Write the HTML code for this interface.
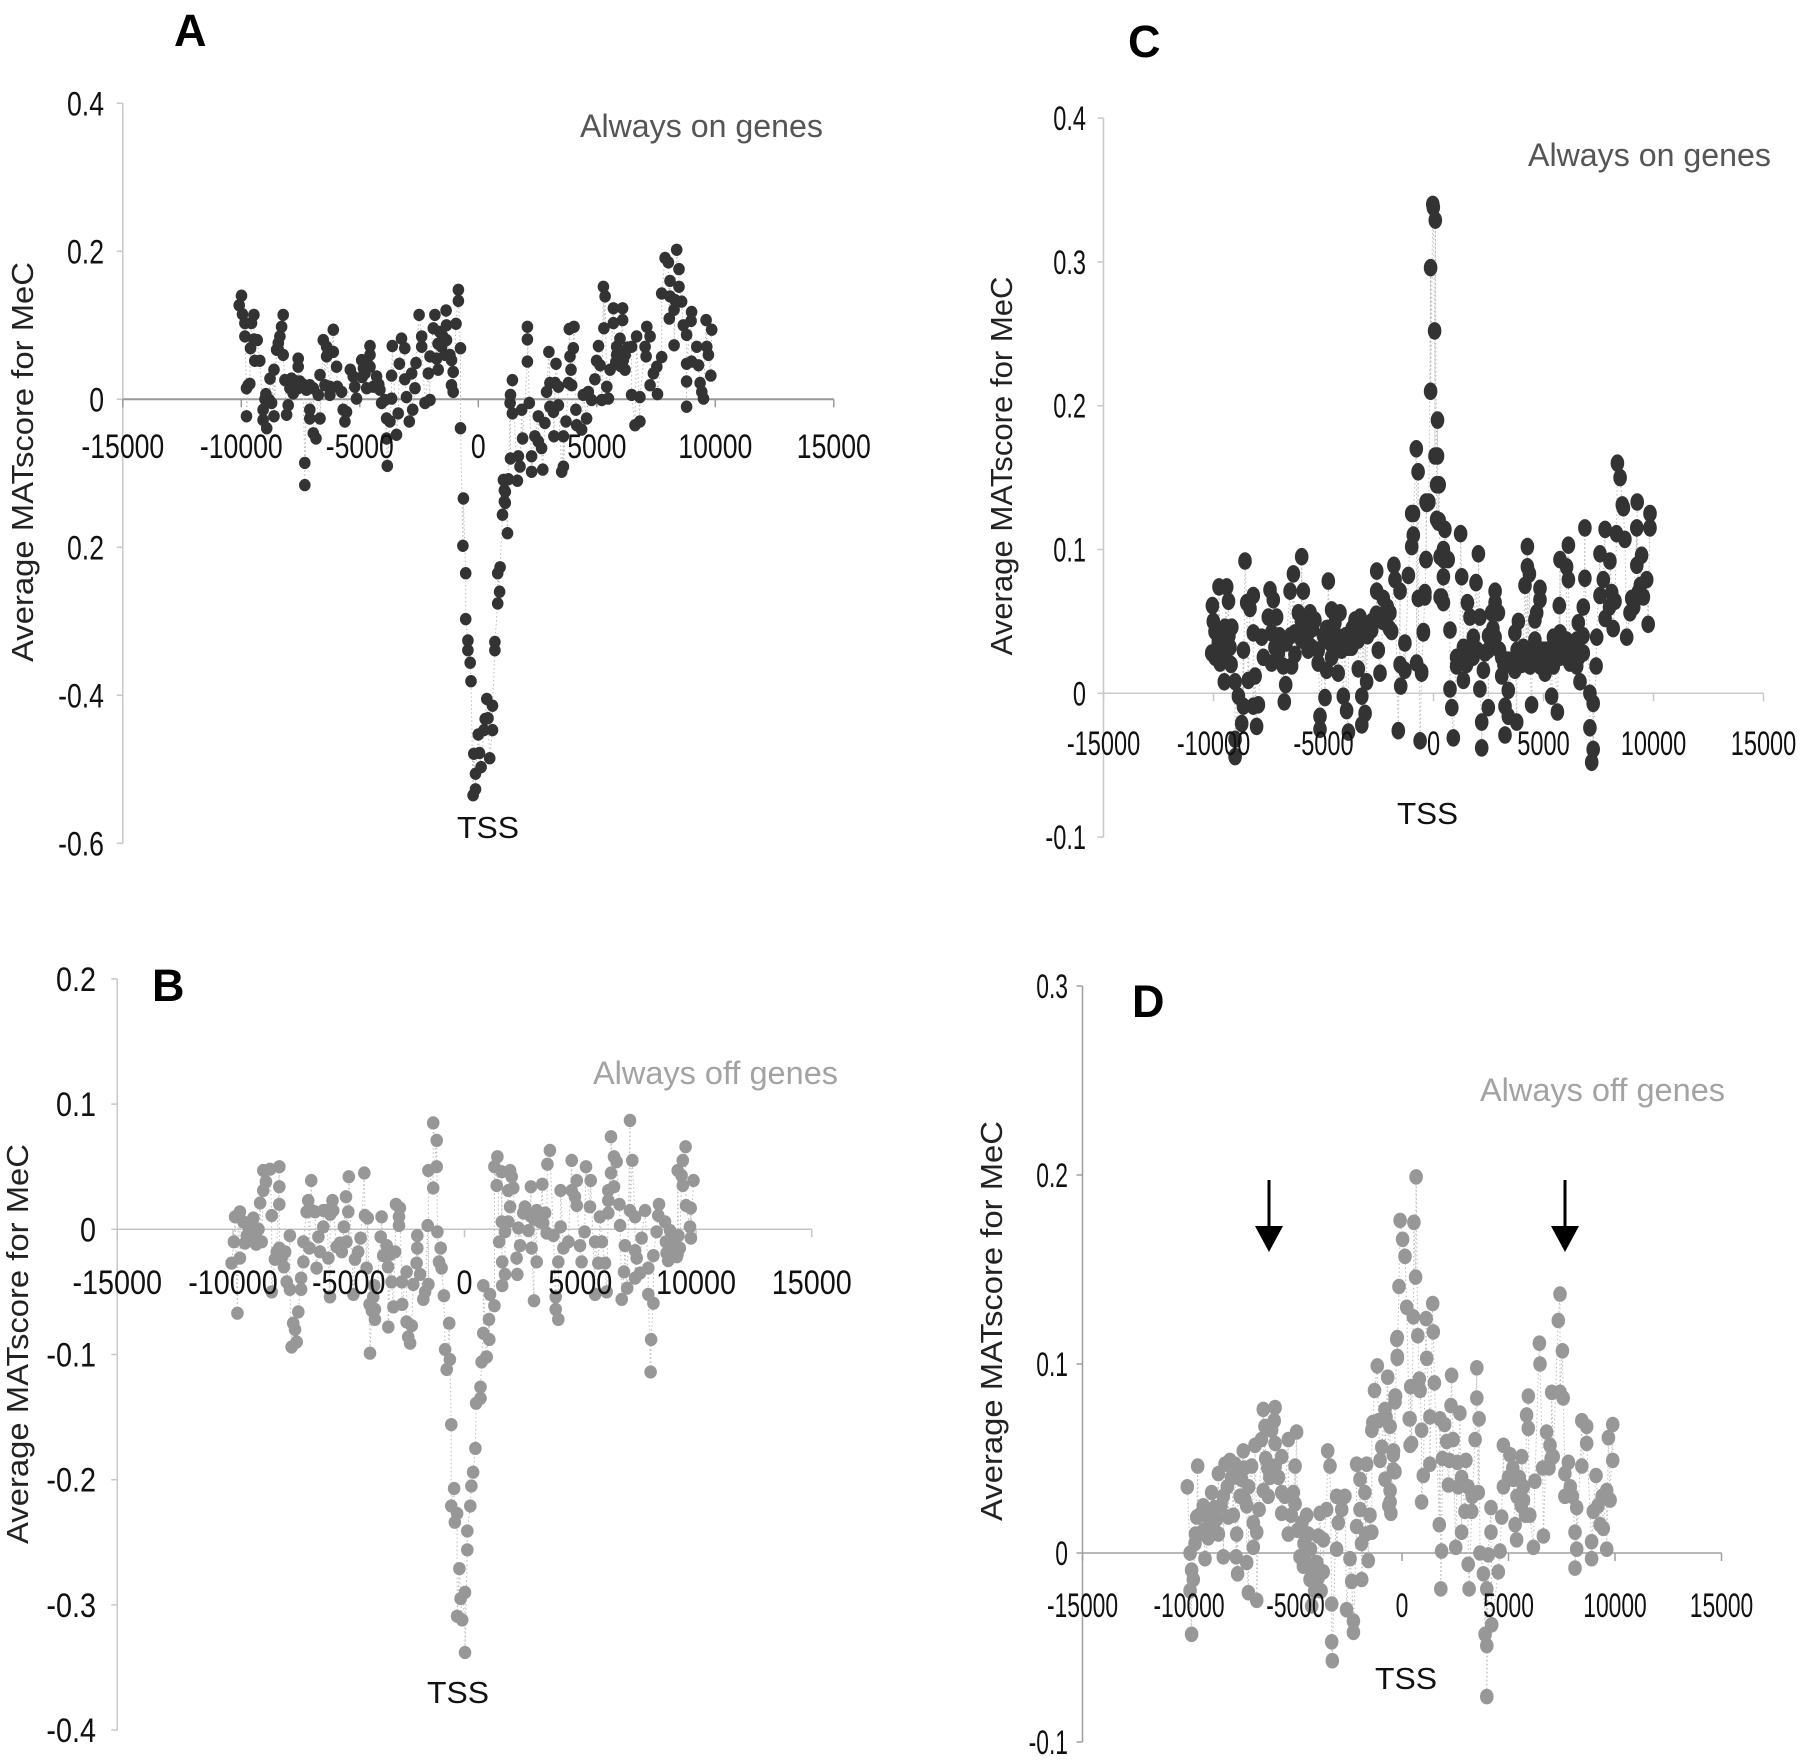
<!DOCTYPE html>
<html lang="en">
<head>
<meta charset="utf-8">
<title>Average MATscore for MeC around TSS</title>
<style>
html,body{margin:0;padding:0;background:#fff;width:1800px;height:1764px;overflow:hidden}
svg{display:block}
text{font-family:"Liberation Sans",sans-serif}
.letter{font-weight:bold;font-size:45px;fill:#000}
.ytitle{font-size:31px;fill:#222}
.tss{font-size:31px;fill:#111}
.sub-on{font-size:32px;fill:#555}
.sub-off{font-size:32px;fill:#a3a3a3}
</style>
</head>
<body>
<svg id="figure" xmlns="http://www.w3.org/2000/svg" width="1800" height="1764" viewBox="0 0 1800 1764">
  <rect x="0" y="0" width="1800" height="1764" fill="#fff"/>

  <g id="panel-a"></g>
  <g id="panel-b"></g>
  <g id="panel-c"></g>
  <g id="panel-d"></g>

  <text class="letter" x="174" y="46">A</text>
  <text class="letter" x="152" y="1001">B</text>
  <text class="letter" x="1128" y="57">C</text>
  <text class="letter" x="1132" y="1017">D</text>

  <text class="ytitle" transform="translate(33,462) rotate(-90)" text-anchor="middle" textLength="400" lengthAdjust="spacingAndGlyphs">Average MATscore for MeC</text>
  <text class="ytitle" transform="translate(28,1344) rotate(-90)" text-anchor="middle" textLength="400" lengthAdjust="spacingAndGlyphs">Average MATscore for MeC</text>
  <text class="ytitle" transform="translate(1012,466) rotate(-90)" text-anchor="middle" textLength="379" lengthAdjust="spacingAndGlyphs">Average MATscore for MeC</text>
  <text class="ytitle" transform="translate(1002,1321) rotate(-90)" text-anchor="middle" textLength="400" lengthAdjust="spacingAndGlyphs">Average MATscore for MeC</text>

  <text class="sub-on" x="580" y="137" textLength="243" lengthAdjust="spacingAndGlyphs">Always on genes</text>
  <text class="sub-off" x="593" y="1084" textLength="245" lengthAdjust="spacingAndGlyphs">Always off genes</text>
  <text class="sub-on" x="1528" y="166" textLength="243" lengthAdjust="spacingAndGlyphs">Always on genes</text>
  <text class="sub-off" x="1480" y="1101" textLength="245" lengthAdjust="spacingAndGlyphs">Always off genes</text>

  <text class="tss" x="457" y="838" textLength="62" lengthAdjust="spacingAndGlyphs">TSS</text>
  <text class="tss" x="427" y="1703" textLength="62" lengthAdjust="spacingAndGlyphs">TSS</text>
  <text class="tss" x="1397" y="824" textLength="61" lengthAdjust="spacingAndGlyphs">TSS</text>
  <text class="tss" x="1375" y="1689" textLength="62" lengthAdjust="spacingAndGlyphs">TSS</text>
</svg>

<script>
/* Shared x axis ticks */
const xTickValues = [-15000,-10000,-5000,0,5000,10000,15000];
const xTickLabels = ["-15000","-10000","-5000","0","5000","10000","15000"];

/* Y axis ticks per panel */
const aYTickValues = [0.4,0.2,0,-0.2,-0.4,-0.6];
const aYTickLabels = ["0.4","0.2","0","0.2","-0.4","-0.6"];
const bYTickValues = [0.2,0.1,0,-0.1,-0.2,-0.3,-0.4];
const bYTickLabels = ["0.2","0.1","0","-0.1","-0.2","-0.3","-0.4"];
const cYTickValues = [0.4,0.3,0.2,0.1,0,-0.1];
const cYTickLabels = ["0.4","0.3","0.2","0.1","0","-0.1"];
const dYTickValues = [0.3,0.2,0.1,0,-0.1];
const dYTickLabels = ["0.3","0.2","0.1","0","-0.1"];

/* Arrow annotations in panel D: bp position */
const dArrowPositions = [-6244,7653];

/* Panel A: [bp, score] */
const panelAPoints = [
[-9990,.140],[-10090,.127],[-9950,.115],[-9850,.103],[-9470,.114],[-9570,.103],[-9850,.085],[-9470,.081],[-9330,.080],[-9610,.069],
[-9710,.019],[-9780,.015],[-9640,.021],[-9780,-.023],[-9430,.052],[-9220,.052],[-8960,.007],[-9080,-.014],[-8820,-.001],[-9080,-.028],
[-8930,-.039],[-8720,-.005],[-8790,.028],[-8620,.040],[-8620,-.023],[-8510,.067],[-8440,.076],[-8370,.085],[-8300,.098],[-8230,.114],
[-8440,.067],[-8230,.060],[-8160,.026],[-8090,-.021],[-7880,.028],[-7950,.015],[-8020,-.008],[-7810,.008],[-7600,.055],[-7600,.044],
[-7670,.024],[-7530,.024],[-7600,.015],[-7320,-.086],[-7320,-.116],[-7250,.013],[-7110,.019],[-7110,-.014],[-7110,-.026],[-6960,.015],
[-6960,-.046],[-6850,-.053],[-6750,.006],[-6680,.033],[-6680,-.026],[-6470,.019],[-6540,.080],[-6400,.071],[-6400,.058],[-6260,.017],
[-6260,.006],[-6120,.094],[-6120,.064],[-5980,.044],[-5950,.017],[-5770,.010],[-5700,-.014],[-5630,-.030],[-5560,-.017],[-5280,.031],
[-5210,.017],[-5140,.001],[-4920,.053],[-4850,.042],[-4780,.035],[-4570,.072],[-4570,.060],[-4570,.044],[-4710,.015],[-4430,.017],
[-4290,.031],[-4150,.013],[-4080,-.005],[-3870,-.026],[-3870,-.053],[-3840,-.090],[-3940,-.001],[-3660,.001],[-3660,.032],[-3630,.072],
[-3730,-.030],[-3450,-.048],[-3380,-.019],[-3330,.048],[-3240,.082],[-3100,.069],[-3100,.027],[-3030,.003],[-2910,-.030],[-2770,-.014],
[-2810,.035],[-2630,.049],[-2670,.015],[-2500,.114],[-2390,.085],[-2390,.071],[-2250,-.005],[-2110,.035],[-2040,-.001],[-1900,.096],
[-1830,.114],[-2040,.058],[-1760,.055],[-1690,.040],[-1620,.091],[-1550,.071],[-1360,.120],[-1340,.100],[-1340,.080],[-1130,.053],
[-1130,.019],[-1060,.037],[-1060,.010],[-940,.102],[-840,.148],[-840,.133],[-750,.069],[-750,-.039],[-630,-.134],
[-650,-.198],[-530,-.235],[-530,-.297],[-440,-.326],[-440,-.339],[-340,-.356],[-310,-.381],[-190,-.479],[-220,-.535],[-120,-.527],
[-120,-.506],[120,-.497],[50,-.478],[0,-.453],[240,-.447],[290,-.432],[410,-.431],[600,-.447],[480,-.485],[360,-.405],[600,-.414],
[700,-.339],[700,-.328],[820,-.276],[900,-.260],[820,-.235],[920,-.227],[1230,-.181],[1020,-.156],[1140,-.140],[1140,-.125],[1090,-.109],
[1100,-.138],[1100,-.123],[1060,-.109],[1270,-.108],[1650,-.110],[1360,-.080],[1690,-.077],[1760,-.091],[2250,-.077],[2250,-.098],
[2720,-.095],[1440,-.019],[1340,-.005],[1360,.006],[1440,.026],[1830,-.014],[2150,-.005],[1870,-.053],[2070,.051],[2070,.081],
[2070,.098],[2530,-.023],[2810,-.032],[2390,-.050],[2530,-.057],[2670,-.066],[2880,.010],[2980,.064],[3020,.022],[3020,-.010],
[3170,-.017],[3280,.048],[3240,.022],[3380,.017],[3380,-.008],[3190,-.050],[3590,-.050],[3700,-.030],[3590,-.091],[3520,-.098],
[3800,.022],[3940,.019],[3870,.058],[4010,.069],[3910,.040],[3840,.095],[4040,.098],[4120,-.014],[4150,-.035],[4360,-.041],
[4570,-.026],[4430,.006],[4640,.010],[4780,-.001],[4920,.027],[5070,.072],[4990,.052],[5140,.046],[5300,.096],[5280,.152],
[5350,.139],[5700,.123],[5700,.103],[5210,-.001],[5490,.001],[5420,.017],[5560,.040],[5840,.071],[5980,.082],[5840,.060],
[6120,.053],[6190,.040],[6090,.123],[6090,.107],[6470,.071],[6470,.006],[6610,-.035],[6820,-.030],[6820,.003],[6680,.085],
[7110,.098],[7250,.085],[7040,.071],[7080,.058],[7560,.007],[7250,.019],[7390,.035],[7530,.044],[7740,.057],[7740,.143],
[7880,.191],[8020,.185],[8370,.202],[8470,.176],[8090,.160],[8470,.152],[8090,.139],[8300,.134],[8580,.132],[8260,.121],
[8060,.109],[8260,.073],[8650,.100],[8790,.087],[9000,.118],[8980,.106],[8790,-.010],[8790,.024],[8790,.048],[9000,.051],
[9220,.071],[9290,.046],[9360,.022],[9430,.010],[9500,.001],[9610,.107],[9850,.094],[9640,.071],[9710,.060],[9810,.032],
[-9000,0],[-7800,.018],[-7400,.020],[-5400,.040],[-4900,.030],[-4700,.050],[-4200,.020],[-1500,.085],[-1700,.075],[-1200,.060],
[-1400,.060],[5800,.050],[5900,.065],[6000,.045],[6200,.060],[6300,.070]
];

/* Panel B: [bp, score] */
const panelBPoints = [
[-9810,-.067],[-9960,-.010],[-9910,.010],[-9700,.014],[-9550,.006],[-10060,-.027],[-9700,-.023],[-9770,.010],[-9120,.009],[-8830,.021],
[-8690,.031],[-8580,.038],[-8690,.047],[-8400,.048],[-8000,.050],[-8000,.034],[-8000,.020],[-8330,.011],[-9190,-.001],[-9270,-.007],
[-9050,-.005],[-9480,-.011],[-8760,-.010],[-8330,-.050],[-8110,-.018],[-8190,-.024],[-7750,-.018],[-7900,-.023],[-7540,-.005],[-7680,-.042],
[-7540,-.048],[-7180,-.066],[-7400,-.075],[-7320,-.080],[-7250,-.090],[-7470,-.094],[-6960,-.026],[-7060,-.039],[-7060,-.048],[-6960,-.010],
[-6700,-.015],[-6620,.039],[-6750,.023],[-6820,.014],[-6460,.014],[-6390,-.031],[-6240,-.018],[-6310,-.006],[-6100,.002],[-5810,-.054],
[-5880,-.023],[-5950,.015],[-5700,.023],[-5670,.015],[-5520,-.014],[-5380,-.011],[-5210,.002],[-5120,.026],[-5020,.014],[-5000,.042],
[-4800,-.052],[-4730,-.024],[-4590,-.018],[-4490,-.007],[-4330,.045],[-4300,.011],[-4180,.009],[-4230,-.031],[-3940,-.054],[-3870,-.064],
[-3870,-.072],[-4080,-.099],[-3580,.010],[-3620,-.006],[-3510,-.021],[-3360,-.013],[-3290,-.078],[-3150,-.042],[-3070,-.062],[-3000,-.018],
[-2960,.020],[-2790,.017],[-2830,.010],[-2830,.003],[-2710,-.042],[-2690,-.060],[-2500,-.034],[-2500,-.074],[-2430,-.086],[-2350,-.091],
[-2280,-.077],[-2210,-.044],[-2040,-.005],[-2040,-.015],[-2070,-.027],[-1920,-.036],[-1780,-.056],[-1560,-.044],[-1590,.003],[-1560,.047],
[-1200,.050],[-1350,.033],[-1350,.085],[-1200,.071],[-1170,-.002],[-1030,-.015],[-1100,-.026],[-990,-.031],[-890,-.053],[-660,-.075],
[-840,-.096],[-630,-.104],[-770,-.112],
[-570,-.156],[-450,-.207],[-570,-.221],[-420,-.234],[-320,-.227],[-220,-.271],[-170,-.295],[-320,-.309],[-100,-.312],[20,-.290],
[20,-.338],[120,-.256],[120,-.241],[250,-.221],[300,-.205],[370,-.194],[470,-.175],[690,-.135],[500,-.139],[690,-.126],[740,-.106],[940,-.102],
[960,-.102],[810,-.083],[1070,-.088],[1060,-.072],[1290,-.061],[1100,-.052],[810,-.045],[1630,-.045],[1630,-.026],[1750,-.036],
[1500,-.010],[1610,.006],[1890,.006],[1750,-.002],[1390,.035],[1290,.050],[1420,.058],[1610,.046],[1970,.047],[2040,.042],
[1890,.031],[2110,.033],[1970,.018],[2280,-.036],[2250,-.023],[2400,-.013],[2330,.001],[2610,.018],[2540,.013],[2760,-.001],
[2900,-.015],[2830,.011],[2870,.034],[3000,-.057],[3120,-.026],[3120,.015],[3360,.036],[3260,.006],[3480,.013],[3580,.052],
[3690,.063],[3550,-.003],[3840,-.005],[3940,-.054],[3940,-.064],[4050,-.072],[4050,-.026],[4150,.002],[4150,.031],[4270,-.015],
[4490,-.010],[4630,.055],[4630,.031],[4850,.039],[4850,.019],[4770,.026],[4990,-.013],[5060,-.026],[5190,-.002],[5250,.050],
[5450,.039],[5420,.018],[5640,-.052],[5640,-.010],[5930,-.010],[5850,.010],[5780,-.027],[6070,-.027],[6140,-.050],[6210,.013],
[6210,.023],[6210,.031],[6330,.045],[6330,.074],[6460,.034],[6460,.058],[6570,.054],[6690,.020],[6720,.003],[6790,-.056],
[6890,-.034],[6930,-.013],[7030,-.047],[7150,.087],[7250,.055],[7150,.015],[7370,.010],[7370,-.017],[7440,-.023],[7370,-.039],
[7580,-.035],[7650,-.007],[7800,.015],[7940,-.031],[7940,-.052],[8160,-.059],[8160,-.021],[8060,-.088],[8040,-.114],[8400,.020],
[8370,.011],[8300,-.002],[8660,.006],[8880,-.001],[8730,-.019],[9020,-.011],[9170,-.022],[9240,-.005],[9210,.047],[9430,.055],
[9550,.066],[9430,.035],[9380,.043],[9570,.019],[9770,.017],[9740,.002],[9780,-.007],[9890,.039],
[-9400,-.005],[-9300,0],[-9000,-.012],[-8900,0],[-7800,-.030],[-8000,-.015],[-6600,.015],[-6100,.015],[-5800,.012],[-5300,-.018],
[-5100,-.010],[-4000,-.065],[-4100,-.060],[-3900,-.045],[-3300,-.030],[-3200,-.020],[-1700,-.050],[8700,-.010],[8900,-.020],[9100,-.012],
[9200,-.020],[9300,-.015],[8800,-.025],[3000,.008],[3200,.012],[3400,.005]
];

/* Panel C: [bp, score] */
const panelCPoints = [
[-10050,.061],[-10010,.050],[-10080,.028],[-9930,.043],[-9750,.074],[-9400,.074],[-9320,.064],[-9780,.035],[-9930,.025],[-9700,.021],
[-9480,.046],[-9170,.046],[-9550,.035],[-9250,.032],[-9400,.023],[-9510,.008],[-9020,.008],[-8870,-.002],[-8640,.030],[-8570,.092],
[-8490,.063],[-8190,.068],[-8340,.059],[-8190,.042],[-8420,.009],[-8110,.012],[-8640,-.009],[-8190,-.009],[-7960,-.008],[-8720,-.021],
[-8040,-.023],[-9020,-.044],[-9020,-.032],[-7810,.039],[-7430,.072],[-7280,.065],[-7510,.053],[-7130,.053],[-7730,.025],[-7360,.021],
[-6830,.019],[-7050,.028],[-6720,.006],[-6780,-.006],[-6370,.083],[-6520,.071],[-5990,.095],[-5920,.071],[-6140,.056],[-5840,.051],
[-6300,.027],[-5990,.037],[-5610,.056],[-5390,.051],[-5540,.032],[-5240,.021],[-4780,.078],[-4630,.058],[-4250,.056],[-4860,.045],
[-4480,.049],[-4930,-.003],[-5160,-.016],[-5160,-.025],[-4860,.016],[-4330,.014],[-4100,-.002],[-3950,-.012],[-3870,-.027],[-3870,.032],
[-3570,.051],[-3340,.053],[-3420,.037],[-3720,.032],[-3420,.017],[-3040,.008],[-2430,.014],[-3260,-.002],[-3110,-.014],[-3260,-.022],
[-2810,.044],[-2510,.030],[-1900,.043],[-2580,.085],[-2580,.071],[-2280,.066],[-1800,.089],[-1750,.079],[-1140,.082],[-1520,.071],
[-1980,.056],[-1300,.035],[-1520,.020],[-1300,.016],[-1490,.005],[-1600,-.026],[-690,.066],[-390,.070],[-460,.043],[-770,.021],
[-540,.014],[-610,-.033],[-990,.125],[-310,.132],[-920,.110],[-990,.102],[-340,.093],[220,.119],[300,.095],[300,.067],
[-6300,.042],[-5690,.042],[-5240,.030],[-4630,.025],[-4180,.030],[-3110,.042],[-6450,.019],[-7210,.032],[-7360,.042],
[-30,.340],[-10,.338],[80,.329],[-130,.296],[50,.252],[-130,.210],[180,.190],[180,.165],[260,.145],[-780,.170],[-700,.154],[-210,.133],[-910,.125],[260,.120],
[70,.165],[140,.145],[-340,.133],[140,.121],[520,.114],[1230,.111],[450,.100],[450,.093],[670,.093],[-340,.093],
[450,.081],[1280,.081],[370,.067],[450,.063],[-390,.067],[-460,.042],[750,.044],[-540,.015],[2040,.097],[1930,.077],
[1540,.063],[1660,.053],[2110,.053],[2640,.056],[2800,.071],[2800,.063],[2950,.056],[2800,.039],[1810,.039],[1360,.032],
[1050,.025],[1660,.028],[1050,.019],[1360,.009],[750,.003],[830,-.010],[2110,.003],[2340,.028],[2270,.016],[2490,.030],
[2490,-.010],[2190,-.020],[900,-.031],[2190,-.038],[3100,.025],[3100,.012],[3400,.023],[3250,-.029],[3250,-.009],[3400,.002],
[3400,-.016],[3780,-.020],[3700,.016],[3860,.050],[3700,.042],[4230,.028],[4080,.032],[4610,.037],[4270,.102],[4270,.088],
[4360,.083],[4160,.075],[4460,-.008],[4610,.051],[4840,.073],[4840,.065],[4690,.056],[4840,.019],[5070,.014],[5140,.030],
[5450,.039],[5370,-.002],[5630,-.013],[5720,.061],[5750,.042],[6050,.037],[6130,.103],[5750,.093],[6050,.088],[6130,.079],
[5750,.025],[6200,.021],[6580,.049],[6510,.037],[6660,.008],[6810,.060],[6880,.115],[6880,.080],[6810,.028],[7110,0],
[7260,-.007],[7110,-.024],[7260,-.039],[7190,-.048],[7420,.039],[7390,.019],[7570,.097],[7800,.114],[7720,.079],[8020,.092],
[7570,.068],[8250,.064],[8320,.111],[8700,.107],[7800,.052],[8170,.045],[8780,.039],[8360,.160],[8480,.150],[8580,.131],
[8630,.129],[9260,.133],[9840,.125],[9240,.115],[9840,.115],[9460,.096],[9240,.089],[9690,.079],[9540,.067],[9010,.066],
[8930,.056],[9760,.048],[4390,.019],[5450,.019],[3930,.023],[6510,.019],
[-9800,.040],[-9600,.030],[-9300,.040],[-9200,.020],[-7000,.040],[-6700,.035],[-6500,.040],[-6000,.050],[-5800,.040],[-5700,.030],
[-5500,.045],[-5000,.040],[-4700,.035],[-4400,.040],[-4000,.040],[-3700,.045],[-3200,.045],[-3000,.040],[-2800,.050],[-2600,.055],
[-2300,.050],[-2100,.060],[-2000,.045],[1200,.025],[1500,.020],[1800,.025],[2000,.030],[2500,.040],[2700,.045],[3000,.030],
[3200,.020],[3500,.020],[3800,.030],[4000,.020],[4300,.020],[4500,.025],[4700,.030],[5000,.030],[5200,.025],[5500,.030],
[5800,.035],[6000,.025],[6200,.030],[6400,.030],[6600,.025],[6800,.040],[8000,.060],[8100,.070],[9100,.060],[9300,.070],[9400,.075]
];

/* Panel D: [bp, score] */
const panelDPoints = [
[-10080,.035],[-9590,.046],[-9880,-.043],[-9950,0],[-9880,-.009],[-9800,-.014],[-9950,-.020],[-9640,.019],[-9560,.010],[-9720,.005],
[-9330,.025],[-8940,.032],[-9250,-.003],[-9090,.019],[-8860,.014],[-8620,.042],[-8310,.047],[-8390,.030],[-8620,.010],[-8390,-.002],
[-8080,.049],[-7840,.047],[-8150,.019],[-7920,.020],[-7760,.010],[-7790,-.002],[-7720,-.011],[-7450,.054],[-7530,.039],[-7370,.028],
[-7290,.025],[-6900,.057],[-7060,.046],[-7290,-.005],[-6980,.016],[-6980,.003],[-6820,.011],[-7210,-.021],[-6820,-.025],[-6710,.023],
[-6510,.076],[-6430,.067],[-6510,.033],[-6280,.030],[-6120,.065],[-5960,.077],[-5960,.058],[-5960,.046],[-5650,.051],[-5340,.060],
[-4950,.064],[-5020,.046],[-5650,.032],[-5650,.021],[-5100,.032],[-5340,.010],[-5020,.026],[-4790,-.002],[-4630,-.007],[-4480,.020],
[-4400,.010],[-4320,-.014],[-4240,-.028],[-3850,.021],[-3540,.023],[-3490,.054],[-3380,.046],[-3930,-.013],[-3930,.009],[-3690,.007],
[-3300,-.027],[-3300,-.047],[-3270,-.057],[-3070,.030],[-2680,.030],[-2990,.016],[-3070,.002],[-2830,.023],[-2600,-.030],[-2440,-.003],
[-2280,-.036],[-2280,-.042],[-2360,-.015],[-2130,.014],[-2130,.047],[-1660,.047],[-1970,.039],[-1740,.032],[-1970,.023],[-1500,.020],
[-1420,.011],[-1890,-.014],[-1580,-.004],[-1420,.065],[-1110,.070],[-800,.076],[-330,.080],[-950,.056],[-1030,.049],[-800,.039],
[-410,.052],[-330,.043],[-560,.033],[-520,.021],[380,.071],[380,.057],
[-1160,.099],[-1290,.086],[-670,.093],[-220,.114],[-220,.104],[-300,.083],[-1370,.069],[-750,.072],[-400,.054],[-350,.043],[-620,.025],
[660,.199],[-90,.176],[560,.175],[30,.166],[140,.157],[640,.146],[-140,.141],[220,.130],[530,.125],[1440,.132],
[1130,.124],[1470,.117],[740,.115],[-250,.113],[-220,.103],[1160,.103],[1520,.090],[410,.088],[810,.092],[-330,.083],
[850,.086],[-560,.067],[340,.071],[450,.058],[920,.065],[1310,.072],[1780,.071],[2330,.094],[2300,.078],[2720,.074],
[2100,.059],[2220,.049],[1000,.041],[1310,.047],[920,.027],[-410,.044],[-560,.027],[3510,.098],[3510,.082],[3620,.071],
[3430,.060],[3000,.049],[2640,.035],[2180,.036],[2960,.022],[3580,.032],[3270,.022],[2800,.011],[1750,.015],[1860,.001],
[2520,.003],[1820,-.019],[3110,-.006],[3150,-.019],[4180,.024],[4180,.011],[4680,.019],[3660,0],[4050,-.001],[4600,.001],
[3820,-.011],[4520,-.010],[3980,-.019],[4210,-.038],[3900,-.043],[3980,-.049],[3980,-.076],[4760,.057],[5070,.052],[5620,.051],
[4760,.035],[5230,.039],[5700,.028],[5310,.015],[5380,.007],[6170,.003],[5930,.083],[5850,.073],[5930,.066],[6450,.111],
[6480,.100],[6240,.038],[6790,.064],[6640,.009],[6950,.057],[7100,.051],[7420,.137],[7340,.123],[7530,.107],[7030,.085],
[7420,.085],[7570,.082],[7810,.048],[7650,.042],[7650,.030],[8200,.024],[8120,.011],[8200,.002],[8120,-.008],[8440,.070],
[8670,.067],[8670,.058],[8440,.046],[9110,.041],[8980,.022],[8900,.006],[8900,-.003],[9450,.013],[9610,.033],[9610,.002],
[9770,.028],[9890,.068],[9690,.061],[9890,.049],
[-9700,.010],[-9500,.020],[-9300,.012],[-9100,.008],[-9000,.020],[-8800,.024],[-8700,.018],[-8500,.025],[-8200,.035],[-8000,.040],
[-7700,.040],[-7600,.030],[-7400,.045],[-7200,.035],[-6600,.060],[-6400,.050],[-6300,.045],[-6200,.040],[-6000,.070],[-5800,.040],
[-5500,.030],[-5200,.020],[-4900,.012],[-4700,.016],[-4600,.005],[-4500,-.005],[-4300,.002],[-4200,-.010],[-4100,-.020],[-4000,-.005],
[-3800,-.020],[-3700,-.010],[-1900,.005],[-1700,.010],[1900,.050],[2000,.068],[2400,.060],[2600,.048],[2800,.040],[3100,.035],
[3300,.030],[5000,.040],[5200,.045],[5400,.030],[5500,.040],[5600,.025],[5700,.035],[5800,.020],[6000,.020],[6600,.045],
[6900,.045],[7000,.050],[7900,.035],[8000,.030],[9200,.025],[9300,.015],[9400,.030]
];

const SVGNS = 'http://www.w3.org/2000/svg';

function shape(parent, tag, attrs) {
  const el = document.createElementNS(SVGNS, tag);
  for (const k in attrs) el.setAttribute(k, attrs[k]);
  parent.appendChild(el);
  return el;
}

function labelWidth(str, digitW) {
  let w = 0;
  for (const ch of str) {
    if (ch === '-') w += 0.6 * digitW;
    else if (ch === '.') w += 0.5 * digitW;
    else w += digitW;
  }
  return w;
}

function drawPanel(cfg) {
  const g = document.getElementById(cfg.id);
  const xScale = v => cfg.x0 + v * cfg.xPerBp;
  const yScale = v => cfg.y0 - v * cfg.yPerUnit;
  const yTop = yScale(cfg.yTicks[0]);
  const yBottom = yScale(cfg.yTicks[cfg.yTicks.length - 1]);
  const xLeft = xScale(xTickValues[0]);
  const xRight = xScale(xTickValues[xTickValues.length - 1]);

  const yAxis = shape(g, 'line', {x1:xLeft, x2:xLeft, y1:yTop, y2:yBottom, stroke:cfg.yAxisColor, 'stroke-width':1.5});
  
  
  const xAxis = shape(g, 'line', {x1:xLeft, x2:xRight, y1:cfg.y0, y2:cfg.y0, stroke:cfg.xAxisColor, 'stroke-width':cfg.xAxisWidth});
  
  

  cfg.yTicks.forEach((v, i) => {
    const y = yScale(v);
    const tick = shape(g, 'line', {x1:xLeft - 6, x2:xLeft, y1:y, y2:y, stroke:cfg.yAxisColor, 'stroke-width':1.5});
    
    
    const w = labelWidth(cfg.yLabels[i], cfg.digitW);
    const t = shape(g, 'text', {x:cfg.yLabelRight - w, y:y + 12, 'font-size':34, fill:'#111', textLength:w, lengthAdjust:'spacingAndGlyphs'});
    t.textContent = cfg.yLabels[i];
    
    
  });

  xTickValues.forEach((v, i) => {
    const x = xScale(v);
    const tick = shape(g, 'line', {x1:x, x2:x, y1:cfg.y0, y2:cfg.y0 + 8, stroke:cfg.xAxisColor, 'stroke-width':1.5});
    
    
  });

  const ordered = cfg.points.slice().sort((p, q) => p[0] - q[0]);
  const line = shape(g, 'polyline', {
    points: ordered.map(p => xScale(p[0]).toFixed(1) + ',' + yScale(p[1]).toFixed(1)).join(' '),
    fill:'none', stroke:'#bdbdbd', 'stroke-width':1, 'stroke-dasharray':'1.5 2.5'
  });
  
  

  ordered.forEach(p => {
    const dot = shape(g, 'ellipse', {cx:xScale(p[0]).toFixed(1), cy:yScale(p[1]).toFixed(1), rx:cfg.rx, ry:cfg.ry, fill:cfg.color});
    
    
  });

  xTickValues.forEach((v, i) => {
    const w = labelWidth(xTickLabels[i], cfg.digitW);
    const t = shape(g, 'text', {x:xScale(v) - w / 2, y:cfg.xLabelBaseline, 'font-size':34, fill:'#111', textLength:w, lengthAdjust:'spacingAndGlyphs'});
    t.textContent = xTickLabels[i];
    
    
  });

  return xScale;
}

drawPanel({id:'panel-a', points:panelAPoints, yTicks:aYTickValues, yLabels:aYTickLabels,
  x0:478.3, xPerBp:0.0237, y0:399.3, yPerUnit:740, color:'#333', rx:5.8, ry:6.2,
  yAxisColor:'#c8c8c8', xAxisColor:'#999', xAxisWidth:2, digitW:14.8, yLabelRight:104, xLabelBaseline:458});

drawPanel({id:'panel-b', points:panelBPoints, yTicks:bYTickValues, yLabels:bYTickLabels,
  x0:464.5, xPerBp:0.02315, y0:1229.3, yPerUnit:1252, color:'#979797', rx:6.3, ry:6.6,
  yAxisColor:'#c8c8c8', xAxisColor:'#c4c4c4', xAxisWidth:1.5, digitW:16, yLabelRight:96, xLabelBaseline:1294});

drawPanel({id:'panel-c', points:panelCPoints, yTicks:cYTickValues, yLabels:cYTickLabels,
  x0:1433.5, xPerBp:0.022, y0:693.3, yPerUnit:1438, color:'#333', rx:6.8, ry:8.8,
  yAxisColor:'#c8c8c8', xAxisColor:'#c8c8c8', xAxisWidth:1.5, digitW:13.1, yLabelRight:1086, xLabelBaseline:755});

const dX = drawPanel({id:'panel-d', points:panelDPoints, yTicks:dYTickValues, yLabels:dYTickLabels,
  x0:1402, xPerBp:0.0213, y0:1553, yPerUnit:1890, color:'#979797', rx:6.8, ry:7.8,
  yAxisColor:'#a0a0a0', xAxisColor:'#a0a0a0', xAxisWidth:1.5, digitW:12.7, yLabelRight:1068, xLabelBaseline:1617});

const panelD = document.getElementById('panel-d');
dArrowPositions.forEach(pos => {
  const x = dX(pos);
  const shaft = shape(panelD, 'line', {x1:x, x2:x, y1:1180, y2:1228, stroke:'#000', 'stroke-width':3});
  
  
  const head = shape(panelD, 'polygon', {points:(x - 14) + ',1226 ' + (x + 14) + ',1226 ' + x + ',1252', fill:'#000'});
  
  
});
</script>
</body>
</html>
